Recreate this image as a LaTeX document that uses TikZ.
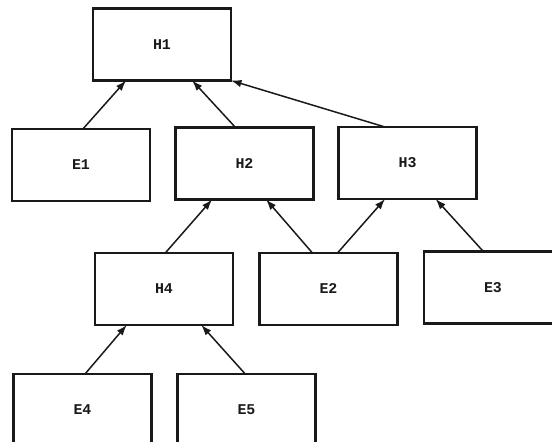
\documentclass[tikz,border=0pt]{standalone}
\usepackage{fontspec}
\setmonofont{Liberation Mono}
\usetikzlibrary{arrows.meta,positioning,calc}
\definecolor{ink}{RGB}{25,25,25}
\tikzset{box/.style={draw=ink,line width=1.3pt,minimum width=2.76cm,minimum height=1.44cm,
    outer sep=0pt,font=\ttfamily\bfseries\fontsize{8.5}{10}\selectfont,text=ink},
  flow/.style={-{Latex[length=2.1mm,width=1.5mm]},line width=0.85pt,ink}}
\begin{document}
\begin{tikzpicture}[x=0.02cm, y=-0.02cm]
\clip (0,0) rectangle (552,442);
\fill[white] (0,0) rectangle (552,442);
\node[box] (H1) at (162,44.5) {H1};
\node[box] (E1) at (81,165) {E1};
\node[box] (H2) at (244.5,163.5) {H2};
\node[box] (H3) at (407.5,163) {H3};
\node[box] (H4) at (164,289) {H4};
\node[box] (E2) at (328.5,289) {E2};
\node[box] (E3) at (493,287.5) {E3};
\node[box] (E4) at (82.5,410) {E4};
\node[box] (E5) at (246.5,410) {E5};
\draw[flow] (E1.87) -- (H1.225);
\draw[flow] (H2.104) -- (H1.310);
\draw[flow] (H3.122) -- (H1.south east);
\draw[flow] (H4.88) -- (H2.228);
\draw[flow] (E2.114) -- (H2.301);
\draw[flow] (E2.76) -- (H3.238);
\draw[flow] (E3.105) -- (H3.308);
\draw[flow] (E4.86) -- (H4.224);
\draw[flow] (E5.92) -- (H4.316);
\end{tikzpicture}
\end{document}
